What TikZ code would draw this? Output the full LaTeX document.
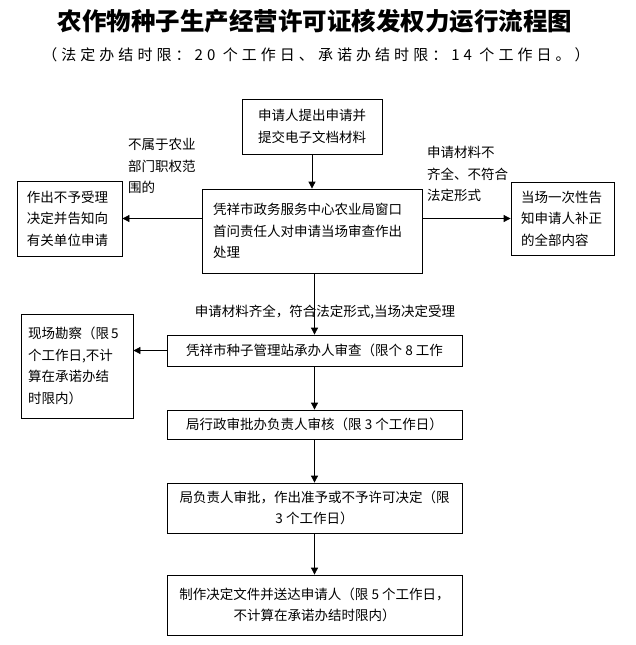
\documentclass[tikz,border=0pt]{standalone}
\usepackage{fontspec}
\setmainfont{Noto Sans CJK SC}
\newfontfamily\spacedfont[LetterSpace=27]{Noto Sans CJK SC}
\usetikzlibrary{arrows.meta}

\newcommand{\boxfont}{\fontsize{13.5}{21.5}\selectfont}

\begin{document}
\begin{tikzpicture}[x=1pt,y=1pt,yscale=-1,xscale=1,
  box/.style={draw, line width=0.8pt, inner sep=0pt, font=\boxfont},
  lbl/.style={inner sep=0pt, font=\boxfont, align=left},
  arr/.style={line width=0.8pt, -{Triangle[length=7pt,width=7pt]}}]
\useasboundingbox (0,0) rectangle (636,645);

% Text Node
\node[font=\bfseries\fontsize{24.5}{28}\selectfont] (title) at (315,21) {农作物种子生产经营许可证核发权力运行流程图};
% Text Node
\node[font=\spacedfont\fontsize{15}{18}\selectfont] (limit) at (316,55) {（法定办结时限：20 个工作日、承诺办结时限：14 个工作日。）};

%Shape: Rectangle [apply]
\node[box, minimum width=140pt, minimum height=55pt, align=center] (apply) at (312,126.5) {申请人提出申请并\\提交电子文档材料};
%Shape: Rectangle [review]
\node[box, text width=198pt, inner xsep=11pt, minimum height=84pt, align=left] (review) at (312,231) {凭祥市政务服务中心农业局窗口\\首问责任人对申请当场审查作出\\处理};
%Shape: Rectangle [refuse]
\node[box, text width=85pt, inner xsep=10pt, minimum height=75pt, align=left] (refuse) at (69.5,218.5) {作出不予受理\\决定并告知向\\有关单位申请};
%Shape: Rectangle [notify]
\node[box, text width=83pt, inner xsep=10pt, minimum height=73pt, align=left] (notify) at (562.5,218.5) {当场一次性告\\知申请人补正\\的全部内容};
%Shape: Rectangle [station]
\node[box, minimum width=295pt, minimum height=31pt] (station) at (314.5,350.5) {凭祥市种子管理站承办人审查（限个 8 工作};
%Shape: Rectangle [survey]
\node[box, text width=98pt, inner xsep=7pt, minimum height=104pt, align=left] (survey) at (77,366) {现场勘察（限\,5\\个工作日,不计\\算在承诺办结\\时限内）};
%Shape: Rectangle [check]
\node[box, minimum width=295pt, minimum height=29pt] (check) at (314.5,424.5) {局行政审批办负责人审核（限 3 个工作日）};
%Shape: Rectangle [approve]
\node[box, minimum width=295pt, minimum height=50pt, align=center] (approve) at (314.5,508) {局负责人审批，作出准予或不予许可决定（限\\3 个工作日）};
%Shape: Rectangle [deliver]
\node[box, minimum width=295pt, minimum height=60pt, align=center] (deliver) at (314.5,605) {制作决定文件并送达申请人（限 5 个工作日，\\不计算在承诺办结时限内）};

% Text Node
\node[lbl, anchor=north west] (outside) at (128,138) {不属于农业\\部门职权范\\围的};
% Text Node
\node[lbl, anchor=north west] (lacking) at (427,146) {申请材料不\\齐全、不符合\\法定形式};
% Text Node
\node[lbl] (accepted) at (325,312) {申请材料齐全，符合法定形式,当场决定受理};

%Straight Lines
\draw[arr] (apply) -- (review);
\draw[arr] (review.west |- refuse) -- (refuse);
\draw[arr] (review.east |- notify) -- (notify);
\draw[arr] (station.north |- review.south) -- (station.north);
\draw[arr] (station.west) -- (station.west -| survey.east);
\draw[arr] (station) -- (check);
\draw[arr] (check) -- (approve);
\draw[arr] (approve) -- (deliver);

\end{tikzpicture}
\end{document}
